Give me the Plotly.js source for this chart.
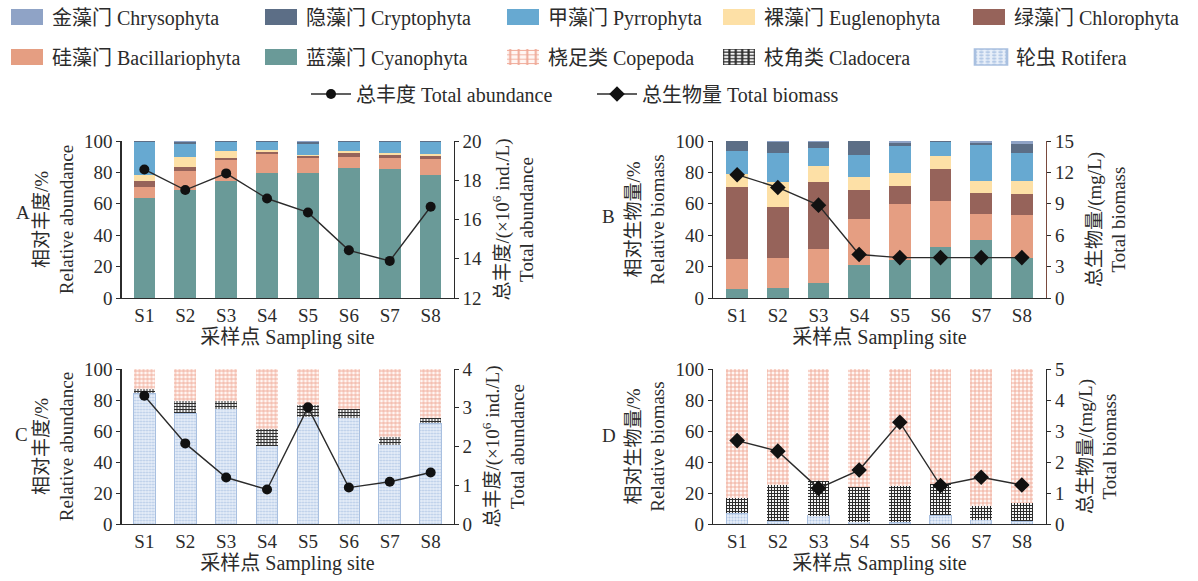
<!DOCTYPE html>
<html>
<head>
<meta charset="utf-8">
<script src="https://cdn.plot.ly/plotly-3.0.1.min.js"></script>
<style>
html,body{margin:0;padding:0;background:#fff;}
#chart{width:1198px;height:581px;}
/* wide rectangular legend swatches for the bar series, as in the reference */
#chart .infolayer g.traces path.legendbar,
#chart .infolayer g.traces path:not(.scatterpts):not(.js-line):not(.js-fill){
  transform:translate(25px,0px) scale(2.667,1.333) !important;
}
</style>
</head>
<body>
<div id="chart"></div>
<script>
// ---------------- data ----------------
const sites = ['S1','S2','S3','S4','S5','S6','S7','S8'];

// Panel A: phytoplankton relative abundance (%)
const abCyano  = [63.4, 68.7, 74.7, 79.4, 79.4, 83.0, 81.9, 78.5];
const abBacil  = [7.0, 12.2, 13.2, 12.1, 10.0, 7.0, 7.0, 10.2];
const abChloro = [4.1, 2.3, 1.5, 1.7, 1.0, 2.6, 2.2, 1.9];
const abEugl   = [3.8, 6.4, 4.0, 1.1, 0.7, 1.0, 1.0, 1.1];
const abPyrro  = [20.8, 8.5, 6.2, 4.8, 7.2, 5.8, 7.5, 7.9];
const abCrypto = [0.7, 1.3, 0.3, 0.9, 1.1, 0.4, 0.3, 0.3];
const abChryso = [0.2, 0.6, 0.1, 0.0, 0.6, 0.2, 0.1, 0.1];
const phytoTotalAbundance = [18.55, 17.5, 18.35, 17.07, 16.36, 14.43, 13.89, 16.65];

// Panel B: phytoplankton relative biomass (%)
const bmCyano  = [5.5, 6.4, 9.6, 20.9, 24.0, 32.6, 36.8, 25.7];
const bmBacil  = [19.4, 19.1, 21.9, 29.3, 35.8, 29.3, 16.4, 27.1];
const bmChloro = [45.5, 32.6, 42.1, 18.5, 11.5, 20.0, 13.4, 13.2];
const bmEugl   = [8.5, 15.9, 10.7, 8.5, 8.1, 8.5, 8.1, 8.7];
const bmPyrro  = [14.7, 18.1, 11.0, 13.9, 17.6, 8.7, 22.7, 17.9];
const bmCrypto = [6.2, 7.0, 3.8, 8.9, 1.9, 0.7, 1.5, 5.3];
const bmChryso = [0.2, 0.9, 0.9, 0.0, 1.1, 0.2, 1.1, 2.1];
const phytoTotalBiomass = [11.78, 10.56, 8.87, 4.15, 3.86, 3.86, 3.86, 3.86];

// Panel C: zooplankton relative abundance (%)
const zabRotifera  = [84.3, 71.4, 74.2, 50.5, 69.2, 68.6, 51.0, 64.9];
const zabCladocera = [2.8, 8.0, 5.2, 10.8, 7.5, 5.6, 5.4, 3.2];
const zabCopepoda  = [12.9, 20.6, 20.6, 38.7, 23.3, 25.8, 43.6, 31.9];
const zooTotalAbundance = [3.31, 2.08, 1.2, 0.89, 3.01, 0.94, 1.09, 1.33];

// Panel D: zooplankton relative biomass (%)
const zbmRotifera  = [6.9, 1.9, 5.2, 1.5, 1.1, 5.8, 2.6, 1.9];
const zbmCladocera = [10.1, 23.3, 22.5, 22.6, 23.4, 20.0, 9.0, 11.9];
const zbmCopepoda  = [83.0, 74.8, 72.3, 75.9, 75.5, 74.2, 88.4, 86.2];
const zooTotalBiomass = [2.69, 2.35, 1.15, 1.74, 3.28, 1.24, 1.51, 1.26];

// ---------------- styling ----------------
const W = 1198, H = 581;
const FONT = "'Liberation Serif', 'Noto Sans CJK SC', serif";
const INK = '#2b2b2b';

const phyto = [
  {name:'蓝藻门 Cyanophyta',      color:'#6a9a98', a:abCyano,  b:bmCyano,  legend:'legend7'},
  {name:'硅藻门 Bacillariophyta', color:'#e59e82', a:abBacil,  b:bmBacil,  legend:'legend6'},
  {name:'绿藻门 Chlorophyta',     color:'#96635a', a:abChloro, b:bmChloro, legend:'legend5'},
  {name:'裸藻门 Euglenophyta',    color:'#fde0a6', a:abEugl,   b:bmEugl,   legend:'legend4'},
  {name:'甲藻门 Pyrrophyta',      color:'#67a9d1', a:abPyrro,  b:bmPyrro,  legend:'legend3'},
  {name:'隐藻门 Cryptophyta',     color:'#5c6e86', a:abCrypto, b:bmCrypto, legend:'legend2'},
  {name:'金藻门 Chrysophyta',     color:'#8fa3c6', a:abChryso, b:bmChryso, legend:'legend'}
];
const zoo = [
  {name:'轮虫 Rotifera', c:zabRotifera, d:zbmRotifera, legend:'legend10',
   marker:{color:'#e3ecf7', line:{color:'#a9c0e0', width:1},
           pattern:{shape:'.', fgcolor:'#b4c9e6', bgcolor:'#e8eff9', size:3, solidity:0.4, fillmode:'replace'}}},
  {name:'枝角类 Cladocera', c:zabCladocera, d:zbmCladocera, legend:'legend9',
   marker:{color:'#ffffff', line:{width:0},
           pattern:{shape:'+', fgcolor:'#2a2a2a', bgcolor:'#f4f4f4', size:3, solidity:0.55, fillmode:'replace'}}},
  {name:'桡足类 Copepoda', c:zabCopepoda, d:zbmCopepoda, legend:'legend8',
   marker:{color:'#ffffff', line:{width:0},
           pattern:{shape:'+', fgcolor:'#efa896', bgcolor:'#fff6f3', size:4, solidity:0.4, fillmode:'replace'}}}
];

const traces = [];
phyto.forEach(g => {
  traces.push({type:'bar', x:sites, y:g.a, name:g.name, xaxis:'x', yaxis:'y',
    marker:{color:g.color, line:{width:0}}, legend:g.legend, showlegend:true});
  traces.push({type:'bar', x:sites, y:g.b, name:g.name, xaxis:'x2', yaxis:'y3',
    marker:{color:g.color, line:{width:0}}, legend:g.legend, showlegend:false});
});
zoo.forEach(g => {
  traces.push({type:'bar', x:sites, y:g.c, name:g.name, xaxis:'x3', yaxis:'y5',
    marker:g.marker, legend:g.legend, showlegend:true});
  traces.push({type:'bar', x:sites, y:g.d, name:g.name, xaxis:'x4', yaxis:'y7',
    marker:g.marker, legend:g.legend, showlegend:false});
});
const abLine = {color:INK, width:1.4};
traces.push({type:'scatter', mode:'lines+markers', x:sites, y:phytoTotalAbundance, xaxis:'x', yaxis:'y2',
  name:'总丰度 Total abundance', line:abLine, marker:{symbol:'circle', size:10, color:'#111'}, legend:'legend11', showlegend:true});
traces.push({type:'scatter', mode:'lines+markers', x:sites, y:phytoTotalBiomass, xaxis:'x2', yaxis:'y4',
  name:'总生物量 Total biomass', line:abLine, marker:{symbol:'diamond', size:12, color:'#111'}, legend:'legend12', showlegend:true});
traces.push({type:'scatter', mode:'lines+markers', x:sites, y:zooTotalAbundance, xaxis:'x3', yaxis:'y6',
  name:'总丰度 Total abundance', line:abLine, marker:{symbol:'circle', size:10, color:'#111'}, legend:'legend11', showlegend:false});
traces.push({type:'scatter', mode:'lines+markers', x:sites, y:zooTotalBiomass, xaxis:'x4', yaxis:'y8',
  name:'总生物量 Total biomass', line:abLine, marker:{symbol:'diamond', size:12, color:'#111'}, legend:'legend12', showlegend:false});

// ---------------- layout ----------------
const px = v => v / W, py = v => 1 - v / H;
const domLeft  = [px(121.5), px(453.5)];
const domRight = [px(713), px(1046)];
const domTop   = [py(298), py(141)];
const domBot   = [py(524), py(369)];

function xax(dom, anchor) {
  return {domain:dom, anchor:anchor, showline:true, linecolor:INK, linewidth:1.3, ticks:'',
    tickfont:{size:19, family:FONT, color:INK}, showgrid:false, zeroline:false, fixedrange:true,
    title:{text:'采样点 Sampling site', font:{size:20, family:FONT, color:INK}, standoff:5}};
}
function yleft(dom, anchor, title) {
  return {domain:dom, anchor:anchor, range:[0,100], dtick:20, showline:true, linecolor:INK, linewidth:1.3,
    ticks:'outside', ticklen:4, tickcolor:INK, tickfont:{size:19, family:FONT, color:INK},
    showgrid:false, zeroline:false, fixedrange:true,
    title:{text:title, font:{size:19, family:FONT, color:INK}, standoff:5}};
}
function yright(over, anchor, range, dtick, title, lc) {
  return {overlaying:over, anchor:anchor, side:'right', range:range, dtick:dtick, showline:true,
    linecolor:lc || INK, linewidth:1.3, ticks:'outside', ticklen:4, tickcolor:INK,
    tickfont:{size:19, family:FONT, color:INK}, showgrid:false, zeroline:false, fixedrange:true,
    title:{text:title, font:{size:19, family:FONT, color:INK}, standoff:14}};
}
function leg(xp, yp) {
  return {x:px(xp), y:py(yp), xanchor:'left', yanchor:'middle', orientation:'h',
    bgcolor:'rgba(0,0,0,0)', borderwidth:0, font:{size:20, family:FONT, color:INK},
    itemwidth:40, itemclick:false, itemdoubleclick:false};
}
const ROW1 = 17, ROW2 = 57, ROW3 = 94;

const layout = {
  width:W, height:H, autosize:false,
  margin:{l:0, r:0, t:0, b:0, autoexpand:false},
  paper_bgcolor:'#fff', plot_bgcolor:'rgba(0,0,0,0)',
  font:{family:FONT, size:19, color:INK},
  barmode:'stack', bargap:0.47,
  xaxis:  xax(domLeft, 'y'),
  xaxis2: xax(domRight, 'y3'),
  xaxis3: xax(domLeft, 'y5'),
  xaxis4: xax(domRight, 'y7'),
  yaxis:  yleft(domTop, 'x', '相对丰度/%<br>Relative abundance'),
  yaxis2: yright('y', 'x', [12,20], 2, '总丰度/(×10<sup>6</sup> ind./L)<br>Total abundance'),
  yaxis3: yleft(domTop, 'x2', '相对生物量/%<br>Relative biomass'),
  yaxis4: yright('y3', 'x2', [0,15], 3, '总生物量/(mg/L)<br>Total biomass', '#7a4a3e'),
  yaxis5: yleft(domBot, 'x3', '相对丰度/%<br>Relative abundance'),
  yaxis6: yright('y5', 'x3', [0,4], 1, '总丰度/(×10<sup>6</sup> ind./L)<br>Total abundance'),
  yaxis7: yleft(domBot, 'x4', '相对生物量/%<br>Relative biomass'),
  yaxis8: yright('y7', 'x4', [0,5], 1, '总生物量/(mg/L)<br>Total biomass'),
  legend:   leg(2, ROW1),
  legend2:  leg(256, ROW1),
  legend3:  leg(498, ROW1),
  legend4:  leg(714, ROW1),
  legend5:  leg(964, ROW1),
  legend6:  leg(2, ROW2),
  legend7:  leg(256, ROW2),
  legend8:  leg(498, ROW2),
  legend9:  leg(714, ROW2),
  legend10: leg(966, ROW2),
  legend11: leg(306, ROW3),
  legend12: leg(592, ROW3),
  annotations: [
    {text:'A', x:px(14), y:py(212), xref:'paper', yref:'paper', showarrow:false, font:{size:19, family:FONT, color:INK}},
    {text:'B', x:px(608), y:py(216), xref:'paper', yref:'paper', showarrow:false, font:{size:19, family:FONT, color:INK}},
    {text:'C', x:px(13), y:py(447), xref:'paper', yref:'paper', showarrow:false, font:{size:19, family:FONT, color:INK}},
    {text:'D', x:px(609), y:py(448), xref:'paper', yref:'paper', showarrow:false, font:{size:19, family:FONT, color:INK}}
  ],
  showlegend:true
};

Plotly.newPlot('chart', traces, layout, {staticPlot:true, displayModeBar:false});
</script>
</body>
</html>
